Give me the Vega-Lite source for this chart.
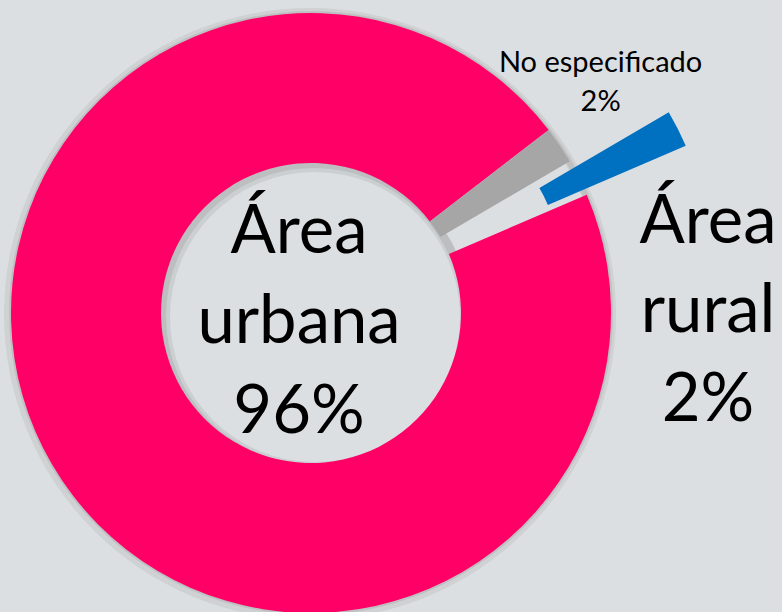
{
  "$schema": "https://vega.github.io/schema/vega-lite/v6.json",
  "width": 622,
  "height": 626,
  "autosize": {"type": "none"},
  "padding": {"left": 0, "top": 0, "right": 160, "bottom": 0},
  "background": "#dcdfe1",
  "view": {"stroke": null},
  "data": {
    "values": [
      {"categoria": "Área urbana", "porcentaje": 96, "orden": 1, "etiqueta": "Área\nurbana\n96%"},
      {"categoria": "No especificado", "porcentaje": 2, "orden": 2, "etiqueta": "No especificado\n2%"},
      {"categoria": "Área rural", "porcentaje": 2, "orden": 3, "etiqueta": "Área\nrural\n2%"}
    ]
  },
  "layer": [
    {
      "transform": [{"filter": "datum.categoria === 'Área urbana'"}],
      "mark": {"type": "arc", "theta": 0, "theta2": 6.2832, "innerRadius": 296, "outerRadius": 306, "fill": "#000000", "opacity": 0.06, "xOffset": -1, "yOffset": 1},
      "encoding": {}
    },
    {
      "transform": [{"filter": "datum.categoria === 'Área urbana'"}],
      "mark": {"type": "arc", "theta": 0, "theta2": 6.2832, "innerRadius": 296, "outerRadius": 302, "fill": "#000000", "opacity": 0.08},
      "encoding": {}
    },
    {
      "transform": [{"filter": "datum.categoria === 'Área urbana'"}],
      "mark": {"type": "arc", "theta": 0, "theta2": 6.2832, "innerRadius": 145, "outerRadius": 156, "fill": "#000000", "opacity": 0.07, "xOffset": 4, "yOffset": 4},
      "encoding": {}
    },
    {
      "transform": [{"filter": "datum.categoria === 'Área urbana'"}],
      "mark": {"type": "arc", "theta": 0, "theta2": 6.2832, "innerRadius": 148, "outerRadius": 156, "fill": "#000000", "opacity": 0.08, "xOffset": 3, "yOffset": 3},
      "encoding": {}
    },
    {
      "mark": {"type": "arc", "innerRadius": 150, "outerRadius": 300},
      "encoding": {
        "theta": {"field": "porcentaje", "type": "quantitative", "stack": true, "scale": {"range": [1.1659, 7.4491]}},
        "order": {"field": "orden", "type": "quantitative"},
        "color": {
          "field": "categoria",
          "type": "nominal",
          "scale": {"domain": ["Área urbana", "No especificado", "Área rural"], "range": ["#ff0066", "#a6a6a6", "#0070c0"]},
          "legend": null
        },
        "opacity": {"condition": {"test": "datum.categoria === 'Área rural'", "value": 0}, "value": 1}
      }
    },
    {
      "mark": {"type": "arc", "innerRadius": 150, "outerRadius": 300, "xOffset": 99, "yOffset": -49},
      "encoding": {
        "theta": {"field": "porcentaje", "type": "quantitative", "stack": true},
        "order": {"field": "orden", "type": "quantitative"},
        "color": {"field": "categoria", "type": "nominal", "legend": null},
        "opacity": {"condition": {"test": "datum.categoria === 'Área rural'", "value": 1}, "value": 0}
      }
    },
    {
      "transform": [{"filter": "datum.categoria === 'Área urbana'"}],
      "mark": {"type": "text", "font": "Lato", "fontSize": 67, "lineBreak": "\n", "lineHeight": 90, "align": "center", "baseline": "alphabetic", "dx": -12, "dy": -60, "color": "#000000"},
      "encoding": {"text": {"field": "etiqueta", "type": "nominal"}}
    },
    {
      "mark": {"type": "text", "radius": 330, "font": "Lato", "fontSize": 29, "lineBreak": "\n", "lineHeight": 39, "align": "center", "baseline": "alphabetic", "dx": 16, "dy": -56, "color": "#000000"},
      "encoding": {
        "theta": {"field": "porcentaje", "type": "quantitative", "stack": true},
        "order": {"field": "orden", "type": "quantitative"},
        "text": {"condition": {"test": "datum.categoria === 'No especificado'", "field": "etiqueta", "type": "nominal"}, "value": ""}
      }
    },
    {
      "mark": {"type": "text", "radius": 400, "font": "Lato", "fontSize": 67, "lineBreak": "\n", "lineHeight": 89, "align": "center", "baseline": "alphabetic", "dx": 40, "dy": 110, "color": "#000000"},
      "encoding": {
        "theta": {"field": "porcentaje", "type": "quantitative", "stack": true},
        "order": {"field": "orden", "type": "quantitative"},
        "text": {"condition": {"test": "datum.categoria === 'Área rural'", "field": "etiqueta", "type": "nominal"}, "value": ""}
      }
    }
  ]
}
